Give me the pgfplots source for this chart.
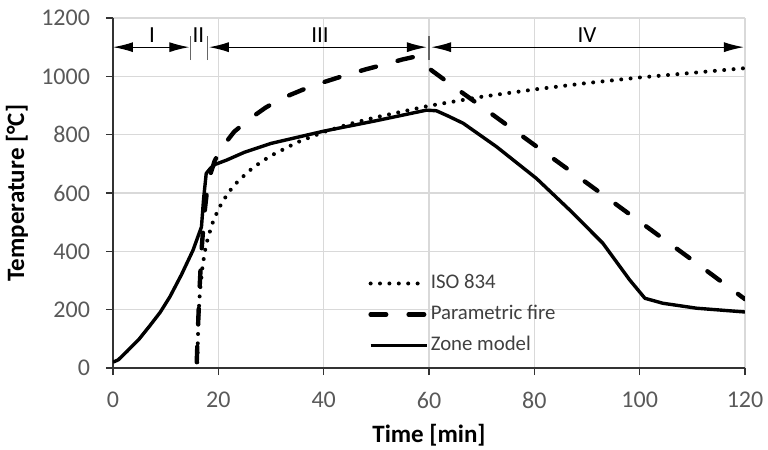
\documentclass[border=0pt]{standalone}
\usepackage{fontspec}
\setmainfont{Carlito}
\usepackage{pgfplots}
\pgfplotsset{compat=1.18}
\usetikzlibrary{arrows.meta}
\definecolor{ticktext}{HTML}{595959}
\definecolor{gridgray}{HTML}{D9D9D9}
\definecolor{legtext}{HTML}{404040}

\begin{document}
\begin{tikzpicture}
\path[use as bounding box] (-56.5pt,-41pt) rectangle (327.5pt,184pt);
\begin{axis}[
  scale only axis, width=316pt, height=175pt,
  xmin=0, xmax=120, ymin=0, ymax=1200,
  xtick={0,20,...,120}, ytick={0,200,...,1200},
  axis x line*=bottom, axis y line*=left,
  axis line style={line width=0.8pt, color=black!80, -},
  tick align=outside, major tick length=3.5pt,
  tick style={line width=0.8pt, black!80},
  grid=major, grid style={gridgray, line width=0.7pt},
  ticklabel style={font=\fontsize{12}{14}\selectfont, text=ticktext},
  xticklabel style={yshift=-5pt},
  yticklabel style={xshift=-4.5pt},
  /pgf/number format/assume math mode=true,
  /pgf/number format/1000 sep={},
  xlabel={\textbf{Time [min]}}, ylabel={\textbf{Temperature [°C]}},
  label style={font=\fontsize{12.5}{14}\selectfont},
  xlabel style={at={(axis description cs:0.5,-0.191)}, anchor=center},
  ylabel style={at={(axis description cs:-0.152,0.5)}, anchor=center},
  legend style={draw=none, fill=none, inner sep=0pt, at={(rel axis cs:0.4035,0.274)}, anchor=north west,
    font=\fontsize{10.4}{12}\selectfont, text=legtext, row sep=4.5pt,
    nodes={inner sep=1pt, text height=7pt, text depth=2pt}},
  legend cell align=left,
  legend image code/.code={\draw[#1] (0pt,0pt) -- (28pt,0pt);},
  line join=round,
]
% ISO 834
\addplot[black, line width=2pt, line cap=round, dash pattern=on 0pt off 4.7pt] coordinates {
  (16,20) (16.25,185) (16.5,261) (17,349) (17.5,404) (18,445) (19,502) (20,544)
  (21,576) (22,603) (23,626) (24,645) (26,678) (28,705) (30,728) (35,774) (40,809)
  (45,837) (50,860) (60,899) (70,930) (80,955) (90,977) (100,996) (110,1012) (120,1028)};
\addlegendentry{ISO 834}
% Parametric fire
\addplot[black, line width=2.2pt, line cap=round, dash pattern=on 7.8pt off 11.2pt] coordinates {
  (15.9,20) (16.1,120) (16.4,260) (16.8,400) (17.3,520) (17.8,600) (18.5,665)
  (19.3,710) (20.3,745) (21.5,775) (23,810) (26,855) (29,893) (32,924) (36,954)
  (40,980) (44,1003) (48,1024) (52,1043) (55,1058) (57,1066) (60,1027) (64,974)
  (70,896) (80,765) (90,634) (100,502) (110,370) (120,236)};
\addlegendentry{Parametric fire}
% Zone model
\addplot[black, line width=1.7pt] coordinates {
  (0,20) (1,28) (2.6,56) (5,100) (7,145) (9,192) (10.8,244) (13,320) (15.2,404)
  (16.8,484) (17.2,580) (17.7,667) (18.5,685) (19.4,698) (21.6,713) (25,740)
  (30,770) (40,812) (50,848) (59.5,884) (61.4,882) (63.5,865) (66.5,839)
  (72.8,759) (80.4,650) (86.7,542) (93,428) (98.1,302) (101,239) (104.4,222)
  (110.8,205) (120,192)};
\addlegendentry{Zone model}

% stage annotations
\draw[{Latex[length=10pt,width=5pt]}-{Latex[length=10pt,width=5pt]}, line width=0.6pt]
  (axis cs:0,1100) -- (axis cs:14.5,1100);
\draw[{Latex[length=10pt,width=5pt]}-{Latex[length=10pt,width=5pt]}, line width=0.6pt]
  (axis cs:18.2,1100) -- (axis cs:59.6,1100);
\draw[{Latex[length=10pt,width=5pt]}-{Latex[length=10pt,width=5pt]}, line width=0.6pt]
  (axis cs:60.4,1100) -- (axis cs:119.8,1100);
\draw[black!60, line width=0.6pt] (axis cs:14.7,1056) -- (axis cs:14.7,1137);
\draw[black!60, line width=0.6pt] (axis cs:17.9,1056) -- (axis cs:17.9,1137);
\draw[black!60, line width=0.6pt] (axis cs:60,1056) -- (axis cs:60,1137);
\node[font=\fontsize{11.5}{12}\selectfont] at (axis cs:7.4,1141) {I};
\node[font=\fontsize{11.5}{12}\selectfont] at (axis cs:16.2,1141) {II};
\node[font=\fontsize{11.5}{12}\selectfont] at (axis cs:39.3,1141) {III};
\node[font=\fontsize{11.5}{12}\selectfont] at (axis cs:90,1141) {IV};
\end{axis}
\end{tikzpicture}
\end{document}
